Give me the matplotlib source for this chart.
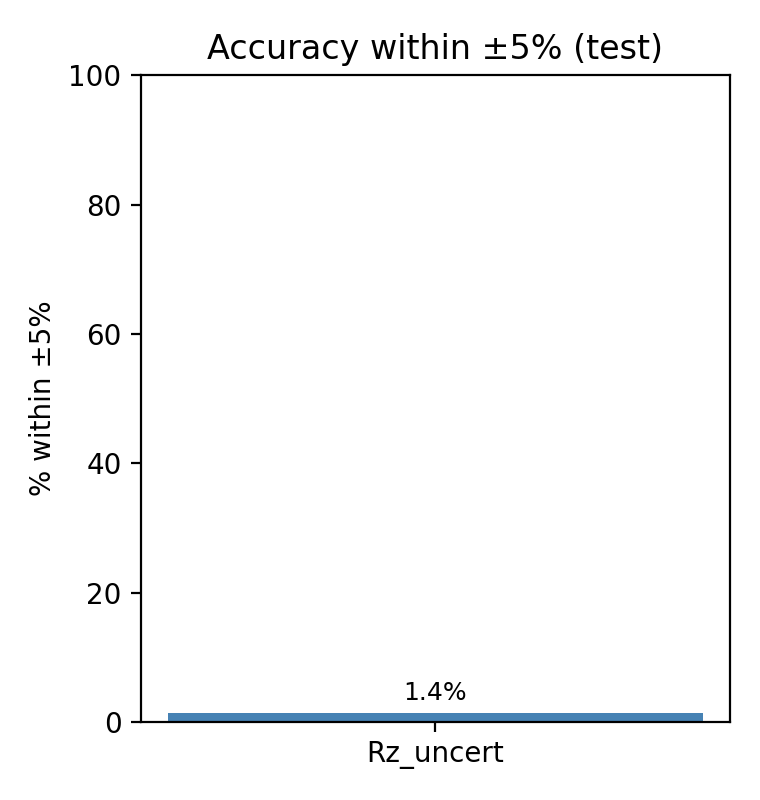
import matplotlib
matplotlib.use("Agg")
import matplotlib.pyplot as plt

labels = ["Rz_uncert"]
pct_within = [1.4]

fig, ax = plt.subplots(figsize=(3.8, 4.0), dpi=200)
fig.subplots_adjust(left=0.1855, right=0.9605, bottom=0.0975, top=0.906)

bars = ax.bar(labels, pct_within, color="steelblue")
for b, v in zip(bars, pct_within):
    ax.annotate(f"{v:.1f}%", (b.get_x() + b.get_width() / 2, v),
                xytext=(0, 3), textcoords="offset points",
                ha="center", va="bottom", fontsize=9)

ax.set_ylim(0, 100)
ax.set_ylabel("% within ±5%")
ax.set_title("Accuracy within ±5% (test)")

fig.savefig("out.png", dpi=200)
